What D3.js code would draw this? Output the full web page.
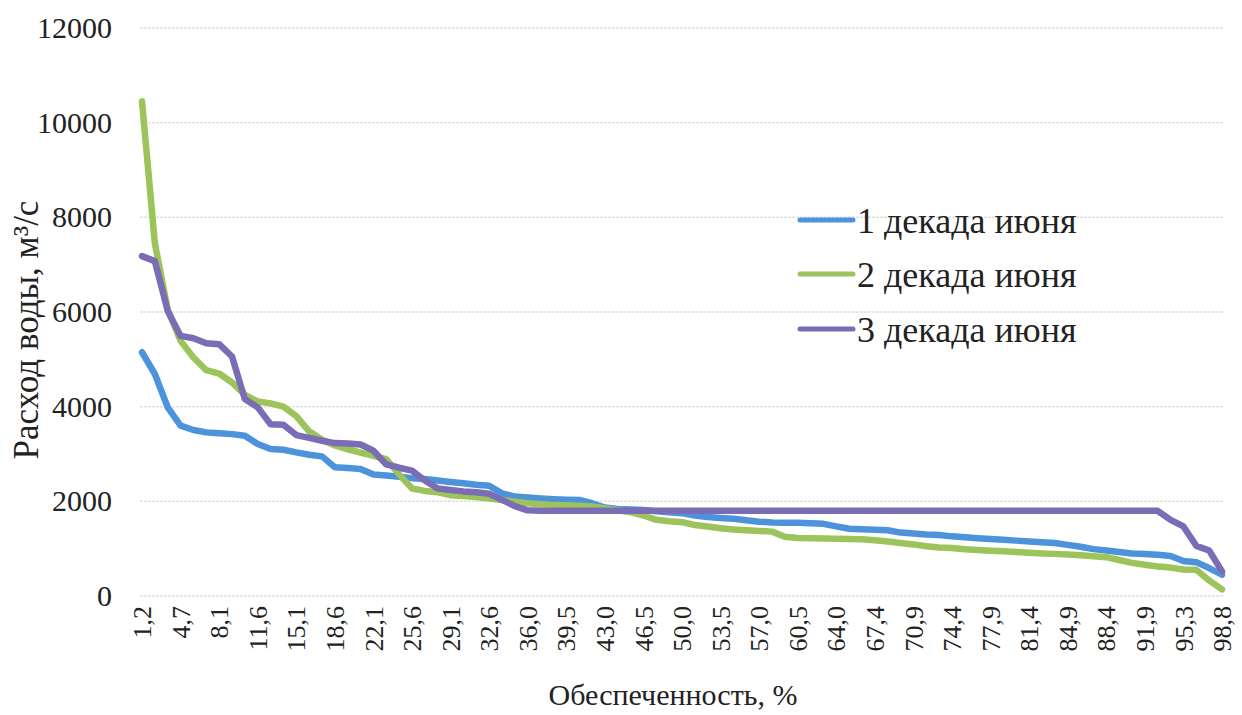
<!DOCTYPE html>
<html>
<head>
<meta charset="utf-8">
<script src="https://cdn.jsdelivr.net/npm/d3@7"></script>
<style>
  html, body { margin: 0; padding: 0; background: #ffffff; }
  svg { display: block; }
  text { font-family: "Liberation Serif", "Times New Roman", serif; fill: #222; }
</style>
</head>
<body>
<svg id="chart" width="1242" height="715"></svg>
<script>
// Обеспеченность, % (categories)
const categories = ["1,2","2,3","3,5","4,7","5,8","7,0","8,1","9,3","10,5","11,6",
  "12,8","14,0","15,1","16,3","17,4","18,6","19,8","20,9","22,1","23,3",
  "24,4","25,6","26,7","27,9","29,1","30,2","31,4","32,6","33,7","34,9",
  "36,0","37,2","38,4","39,5","40,7","41,9","43,0","44,2","45,3","46,5",
  "47,7","48,8","50,0","51,2","52,3","53,5","54,7","55,8","57,0","58,1",
  "59,3","60,5","61,6","62,8","64,0","65,1","66,3","67,4","68,6","69,8",
  "70,9","72,1","73,3","74,4","75,6","76,7","77,9","79,1","80,2","81,4",
  "82,6","83,7","84,9","86,0","87,2","88,4","89,5","90,7","91,9","93,0",
  "94,2","95,3","96,5","97,7","98,8"];

const seriesNames = ["1 декада июня", "2 декада июня", "3 декада июня"];

const decade1 = [5150,4690,3985,3600,3506,3457,3436,3420,3387,3210,
  3105,3090,3035,2985,2950,2720,2705,2685,2565,2545,
  2520,2490,2470,2440,2410,2380,2350,2330,2170,2100,
  2080,2060,2045,2035,2030,1960,1870,1840,1830,1815,
  1790,1770,1750,1700,1670,1650,1630,1600,1570,1555,
  1550,1545,1535,1525,1470,1420,1410,1400,1390,1340,
  1320,1300,1290,1260,1240,1220,1205,1190,1170,1150,
  1135,1120,1080,1040,990,960,930,900,885,870,
  845,740,715,590,450];

const decade2 = [10450,7450,6050,5390,5040,4770,4700,4510,4250,4110,
  4070,4000,3800,3480,3300,3180,3100,3030,2960,2890,
  2570,2270,2220,2190,2130,2110,2090,2060,2030,1990,
  1960,1940,1925,1915,1905,1890,1850,1810,1770,1700,
  1610,1580,1560,1500,1470,1430,1405,1390,1375,1360,
  1250,1225,1220,1215,1210,1205,1200,1180,1150,1120,
  1090,1050,1025,1015,990,970,955,945,930,915,
  900,890,875,860,840,820,760,700,660,625,
  600,560,555,330,140];

const decade3 = [7180,7075,6020,5495,5445,5340,5320,5060,4160,3985,
  3630,3620,3400,3340,3280,3230,3220,3200,3070,2780,
  2710,2650,2440,2270,2240,2210,2190,2160,2030,1900,
  1810,1800,1800,1800,1800,1800,1800,1800,1800,1800,
  1800,1800,1800,1800,1800,1800,1800,1800,1800,1800,
  1800,1800,1800,1800,1800,1800,1800,1800,1800,1800,
  1800,1800,1800,1800,1800,1800,1800,1800,1800,1800,
  1800,1800,1800,1800,1800,1800,1800,1800,1800,1800,
  1610,1470,1060,960,520];

const yTicks = [0, 2000, 4000, 6000, 8000, 10000, 12000];
const colors = ["#4c93dc", "#9cc45b", "#7b6cb6"];

const svg = d3.select("#chart");
const x = d3.scalePoint().domain(categories).range([142, 1222]);
const y = d3.scaleLinear().domain([0, 12000]).range([596, 28]);

// gridlines
svg.append("g").selectAll("line").data(yTicks).join("line")
  .attr("x1", 140).attr("x2", 1224)
  .attr("y1", d => y(d)).attr("y2", d => y(d))
  .attr("stroke", "#e0e0e0").attr("stroke-width", 1.5)
  .attr("stroke-dasharray", "3,1");

// y axis labels
const yAxis = d3.axisLeft(y).tickValues(yTicks).tickSize(0).tickPadding(0).tickFormat(d3.format("d"));
const gy = svg.append("g").attr("transform", "translate(112,0)").call(yAxis);
gy.select(".domain").remove();
gy.selectAll("text").attr("font-size", 30).attr("fill", "#222").attr("dy", "0.32em");

// x axis labels
const xAxis = d3.axisBottom(x)
  .tickValues(categories.filter((d, i) => i % 3 === 0))
  .tickSize(0).tickPadding(0);
const gx = svg.append("g").attr("transform", "translate(0,606)").call(xAxis);
gx.select(".domain").remove();
gx.selectAll("text")
  .attr("font-size", 26).attr("fill", "#222")
  .attr("text-anchor", "end")
  .attr("transform", "rotate(-90)")
  .attr("x", 0).attr("y", 0).attr("dy", "0.33em");

// lines
const series = [decade1, decade2, decade3];
const line = d3.line().x((d, i) => x(categories[i])).y(d => y(d));
svg.append("g").selectAll("path").data(series).join("path")
  .attr("d", d => line(d))
  .attr("fill", "none")
  .attr("stroke", (d, i) => colors[i])
  .attr("stroke-width", 6.5)
  .attr("stroke-linejoin", "round")
  .attr("stroke-linecap", "round");

// legend
const legendY = [220, 274, 329];
const lg = svg.append("g").selectAll("g").data(seriesNames).join("g")
  .attr("transform", (d, i) => `translate(800,${legendY[i]})`);
lg.append("line").attr("x1", 0).attr("x2", 53).attr("y1", 0).attr("y2", 0)
  .attr("stroke", (d, i) => colors[i]).attr("stroke-width", 5).attr("stroke-linecap", "round");
lg.append("text").attr("x", 57).attr("y", 0).attr("dy", "0.35em")
  .attr("font-size", 36).text(d => d);

// axis titles
svg.append("text").attr("x", 673).attr("y", 705).attr("text-anchor", "middle")
  .attr("font-size", 30).text("Обеспеченность, %");
svg.append("text").attr("transform", "translate(38,330) rotate(-90)")
  .attr("text-anchor", "middle").attr("font-size", 35).text("Расход воды, м³/с");
</script>
</body>
</html>
